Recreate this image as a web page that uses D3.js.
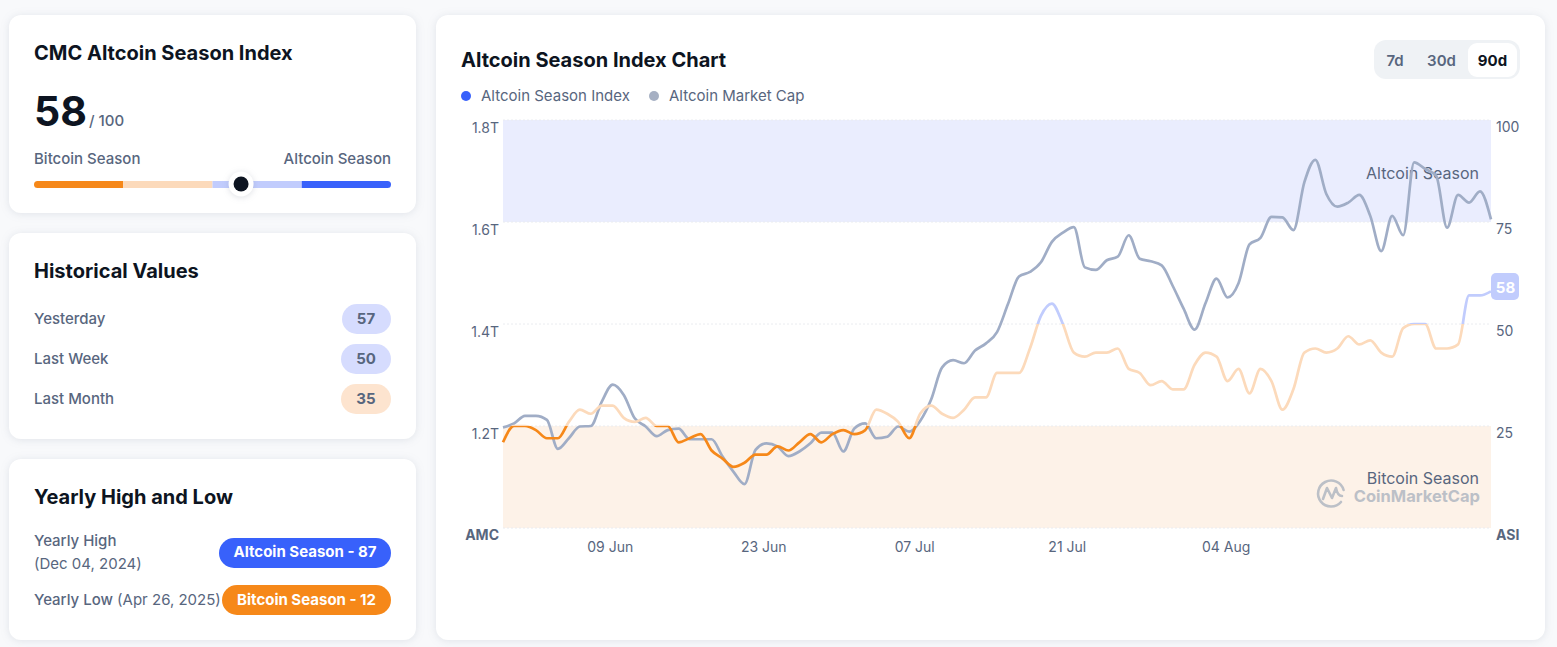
<!DOCTYPE html>
<html>
  <head>
    <meta charset="UTF-8" />
    <style>
      html, body {
        margin: 0;
        padding: 0;
        width: 100%;
        height: 100%;
        overflow: hidden;
        background-color: #f8f9fb;
      }
      svg {
        display: block;
        font-family: Inter, "Noto Sans", sans-serif;
      }
      .card {
        fill: #ffffff;
        filter: drop-shadow(0 1px 4px rgba(88, 102, 126, 0.14));
      }
      .axis path, .axis line {
        display: none;
      }
      .axis text {
        font-family: Inter, "Noto Sans", sans-serif;
        font-size: 14px;
        fill: #58667e;
      }
    </style>
  </head>
  <body>
    <script src="https://d3js.org/d3.v7.min.js"></script>
    <div id="chart"></div>

    <script>
      // daily values, 30 May 2025 to 28 Aug 2025
      const startDate = new Date(2025, 4, 30);
      const asiValues = [21, 25, 25, 24, 22, 22, 26, 29, 28, 30, 30, 27, 26, 27, 25, 25, 21, 22, 23, 19,
        17, 15, 16, 18, 18, 20, 19, 21, 23, 21, 23, 24, 23, 24, 29, 28, 26, 22, 28, 30,
        28, 27, 29, 32, 32, 38, 38, 38, 44, 52, 55, 50, 43, 42, 43, 43, 44, 39, 38, 35,
        36, 34, 34, 40, 43, 42, 36, 39, 33, 39, 36, 29, 34, 43, 44, 43, 44, 47, 45, 46,
        43, 42, 49, 50, 50, 44, 44, 45, 57, 57, 58];
      const capValues = [1.197, 1.205, 1.22, 1.22, 1.212, 1.155, 1.176, 1.199, 1.2, 1.248,
        1.281, 1.261, 1.215, 1.199, 1.18, 1.192, 1.195, 1.174, 1.174, 1.174,
        1.14, 1.11, 1.086, 1.153, 1.166, 1.16, 1.141, 1.15, 1.166, 1.187,
        1.187, 1.15, 1.195, 1.205, 1.176, 1.179, 1.199, 1.189, 1.21, 1.252,
        1.315, 1.329, 1.323, 1.348, 1.362, 1.384, 1.439, 1.493, 1.502, 1.521,
        1.561, 1.579, 1.59, 1.511, 1.506, 1.525, 1.532, 1.574, 1.528, 1.523,
        1.515, 1.475, 1.43, 1.389, 1.441, 1.489, 1.452, 1.48, 1.556, 1.569,
        1.61, 1.609, 1.584, 1.678, 1.722, 1.655, 1.63, 1.638, 1.653, 1.612,
        1.543, 1.612, 1.574, 1.717, 1.704, 1.691, 1.589, 1.653, 1.638, 1.66, 1.605];

      const capTicks = [1.2, 1.4, 1.6, 1.8];
      const asiTicks = [25, 50, 75, 100];
      const dateTicks = [new Date(2025, 5, 9), new Date(2025, 5, 23), new Date(2025, 6, 7), new Date(2025, 6, 21), new Date(2025, 7, 4)];

      const seasonNames = ['Bitcoin Season', 'Altcoin Season'];
      const asiBands = [[0, 25], [25, 50], [50, 75], [75, 100]];
      const bandLineColors = ['#f68819', '#fcdabb', '#c1ccfd', '#3861fb'];
      const gaugeColors = ['#f68819', '#fcdabb', '#c1ccfd', '#c1ccfd', '#3861fb'];
      const gaugeBreaks = [0, 25, 50, 58, 75, 100];
      const currentValue = 58;

      const historyLabels = ['Yesterday', 'Last Week', 'Last Month'];
      const historyValues = [57, 50, 35];

      const svg = d3.select('#chart').append('svg').attr('width', 1557).attr('height', 647);

      function label(x, y, str, size, weight, color, anchor) {
        return svg.append('text')
          .attr('x', x).attr('y', y)
          .attr('dominant-baseline', 'central')
          .attr('text-anchor', anchor || 'start')
          .attr('font-size', size)
          .attr('font-weight', weight)
          .attr('fill', color)
          .text(str);
      }

      function pill(x0, x1, y0, y1, fill) {
        svg.append('rect').attr('x', x0).attr('y', y0).attr('width', x1 - x0).attr('height', y1 - y0)
          .attr('rx', (y1 - y0) / 2).attr('fill', fill);
      }

      // cards
      [[9, 15, 407, 198], [9, 233, 407, 206], [9, 459, 407, 181], [436, 15, 1109, 625]].forEach((c) => {
        svg.append('rect').attr('class', 'card')
          .attr('x', c[0]).attr('y', c[1]).attr('width', c[2]).attr('height', c[3]).attr('rx', 12);
      });

      // index card
      label(34, 53, 'CMC Altcoin Season Index', 20, 700, '#0d1421');
      label(34, 111, currentValue, 41, 700, '#0d1421');
      label(89, 120, '/ 100', 15, 500, '#58667e');
      label(34, 158, seasonNames[0], 15, 500, '#58667e');
      label(391, 158, seasonNames[1], 15, 500, '#58667e', 'end');

      const gaugeX = d3.scaleLinear().domain([0, 100]).range([34, 391]);
      svg.append('clipPath').attr('id', 'gauge-clip').append('rect')
        .attr('x', 34).attr('y', 181).attr('width', 357).attr('height', 7).attr('rx', 3.5);
      svg.append('g').attr('clip-path', 'url(#gauge-clip)')
        .selectAll('rect').data(gaugeColors).join('rect')
        .attr('x', (d, i) => gaugeX(gaugeBreaks[i]))
        .attr('width', (d, i) => gaugeX(gaugeBreaks[i + 1]) - gaugeX(gaugeBreaks[i]))
        .attr('y', 181).attr('height', 7)
        .attr('fill', (d) => d);
      svg.append('circle').attr('cx', gaugeX(currentValue)).attr('cy', 184).attr('r', 12.5)
        .attr('fill', '#fff').style('filter', 'drop-shadow(0 1px 3px rgba(88,102,126,0.2))');
      svg.append('circle').attr('cx', gaugeX(currentValue)).attr('cy', 184).attr('r', 7.5).attr('fill', '#0d1421');

      // historical values
      label(34, 271, 'Historical Values', 20, 700, '#0d1421');
      historyLabels.forEach((name, i) => {
        const cy = 319 + i * 40;
        label(34, cy - 1, name, 15, 500, '#58667e');
        pill(historyValues[i] > 50 ? 342 : 341, 391, cy - 15, cy + 15, historyValues[i] >= 50 ? '#d6dcfe' : '#fde4cf');
        label(366, cy - 1, historyValues[i], 15, 700, '#58667e', 'middle');
      });

      // yearly high and low
      label(34, 497, 'Yearly High and Low', 20, 700, '#0d1421');
      label(34, 540, 'Yearly High', 15, 500, '#58667e');
      label(34, 563, '(Dec 04, 2024)', 15, 400, '#58667e');
      pill(219, 391, 538, 568, '#3861fb');
      label(305, 551, seasonNames[1] + ' - 87', 15, 700, '#fff', 'middle');
      const lowLabel = label(34, 599, 'Yearly Low', 15, 500, '#58667e');
      lowLabel.append('tspan').attr('font-weight', 400).text(' (Apr 26, 2025)');
      pill(222, 391, 585, 615, '#f68819');
      label(306.5, 599, seasonNames[0] + ' - 12', 15, 700, '#fff', 'middle');

      // chart header
      label(461, 60, 'Altcoin Season Index Chart', 20, 700, '#0d1421');
      svg.append('rect').attr('x', 1374).attr('y', 40).attr('width', 146).attr('height', 39).attr('rx', 12).attr('fill', '#eff2f5');
      svg.append('rect').attr('x', 1468).attr('y', 43).attr('width', 49).attr('height', 34).attr('rx', 9).attr('fill', '#fff');
      label(1395, 60, '7d', 15, 600, '#58667e', 'middle');
      label(1441.5, 60, '30d', 15, 600, '#58667e', 'middle');
      label(1492.5, 60, '90d', 15, 700, '#0d1421', 'middle');

      svg.append('circle').attr('cx', 466).attr('cy', 96).attr('r', 5).attr('fill', '#3861fb');
      label(481, 95, 'Altcoin Season Index', 15, 400, '#58667e');
      svg.append('circle').attr('cx', 654).attr('cy', 96).attr('r', 5).attr('fill', '#a6b0c3');
      label(669, 95, 'Altcoin Market Cap', 15, 400, '#58667e');

      // scales
      const dates = asiValues.map((d, i) => d3.timeDay.offset(startDate, i));
      const x = d3.scaleTime().domain([dates[0], dates[dates.length - 1]]).range([503, 1491]);
      const yAsi = d3.scaleLinear().domain([0, 100]).range([528, 120]);
      const yCap = d3.scaleLinear().domain([1.0, 1.8]).range([528, 120]);

      // season bands
      svg.append('rect').attr('x', x.range()[0]).attr('width', 988)
        .attr('y', yAsi(100)).attr('height', yAsi(75) - yAsi(100)).attr('fill', '#eaedfe');
      svg.append('rect').attr('x', x.range()[0]).attr('width', 988)
        .attr('y', yAsi(25)).attr('height', yAsi(0) - yAsi(25)).attr('fill', '#fdf2e8');

      svg.append('g').selectAll('line').data([0, 25, 50, 75, 100]).join('line')
        .attr('x1', 503).attr('x2', 1491)
        .attr('y1', (d) => yAsi(d)).attr('y2', (d) => yAsi(d))
        .attr('stroke', '#eaecf0').attr('stroke-dasharray', '2 2');

      label(1479, 173, seasonNames[1], 16, 400, '#58667e', 'end');
      label(1479, 478, seasonNames[0], 16, 400, '#58667e', 'end');

      // watermark
      const logo = svg.append('g').attr('transform', 'translate(1331,493)')
        .attr('fill', 'none').attr('stroke', '#bcc0c7').attr('stroke-width', 2.6).attr('stroke-linecap', 'round');
      logo.append('path').attr('d', 'M10 9A13 13 0 1 1 12.6 -3');
      logo.append('path').attr('d', 'M-8 6L-4 -5L1 5L5 -5Q6.5 3 11 3').attr('stroke-linejoin', 'round');
      label(1480, 495.5, 'CoinMarketCap', 16.5, 700, '#bcc0c7', 'end');

      // lines
      const capLine = d3.line().x((d, i) => x(dates[i])).y((d) => yCap(d)).curve(d3.curveMonotoneX);
      const asiLine = d3.line().x((d, i) => x(dates[i])).y((d) => yAsi(d)).curve(d3.curveMonotoneX);

      svg.append('path').datum(capValues).attr('d', capLine)
        .attr('fill', 'none').attr('stroke', '#a0adc6').attr('stroke-width', 2.7);

      // the index line changes colour with the band it is in
      asiBands.forEach((band, i) => {
        svg.append('clipPath').attr('id', 'band-' + i).append('rect')
          .attr('x', 495).attr('width', 1010)
          .attr('y', yAsi(band[1])).attr('height', yAsi(band[0]) - yAsi(band[1]));
        svg.append('path').datum(asiValues).attr('d', asiLine)
          .attr('clip-path', 'url(#band-' + i + ')')
          .attr('fill', 'none').attr('stroke', bandLineColors[i]).attr('stroke-width', 2.7);
      });

      // axes
      svg.append('g').attr('class', 'axis').attr('transform', 'translate(499,8)')
        .call(d3.axisLeft(yCap).tickValues(capTicks).tickFormat((d) => d.toFixed(1) + 'T').tickSize(0).tickPadding(0));
      svg.append('g').attr('class', 'axis').attr('transform', 'translate(1496,7)')
        .call(d3.axisRight(yAsi).tickValues(asiTicks).tickSize(0).tickPadding(0));
      // date labels start left of their day
      svg.append('g').attr('class', 'axis').attr('transform', 'translate(-26,542)')
        .call(d3.axisBottom(x).tickValues(dateTicks).tickFormat(d3.timeFormat('%d %b')).tickSize(0).tickPadding(0))
        .selectAll('text').attr('text-anchor', 'start');

      label(499, 534, 'AMC', 14, 700, '#58667e', 'end');
      label(1496, 534, 'ASI', 14, 700, '#58667e');

      // current value tag
      svg.append('rect').attr('x', 1491).attr('y', 273).attr('width', 28).attr('height', 27).attr('rx', 5).attr('fill', '#c1ccfd');
      label(1505.5, 287, currentValue, 15, 700, '#fff', 'middle');
    </script>
  </body>
</html>
